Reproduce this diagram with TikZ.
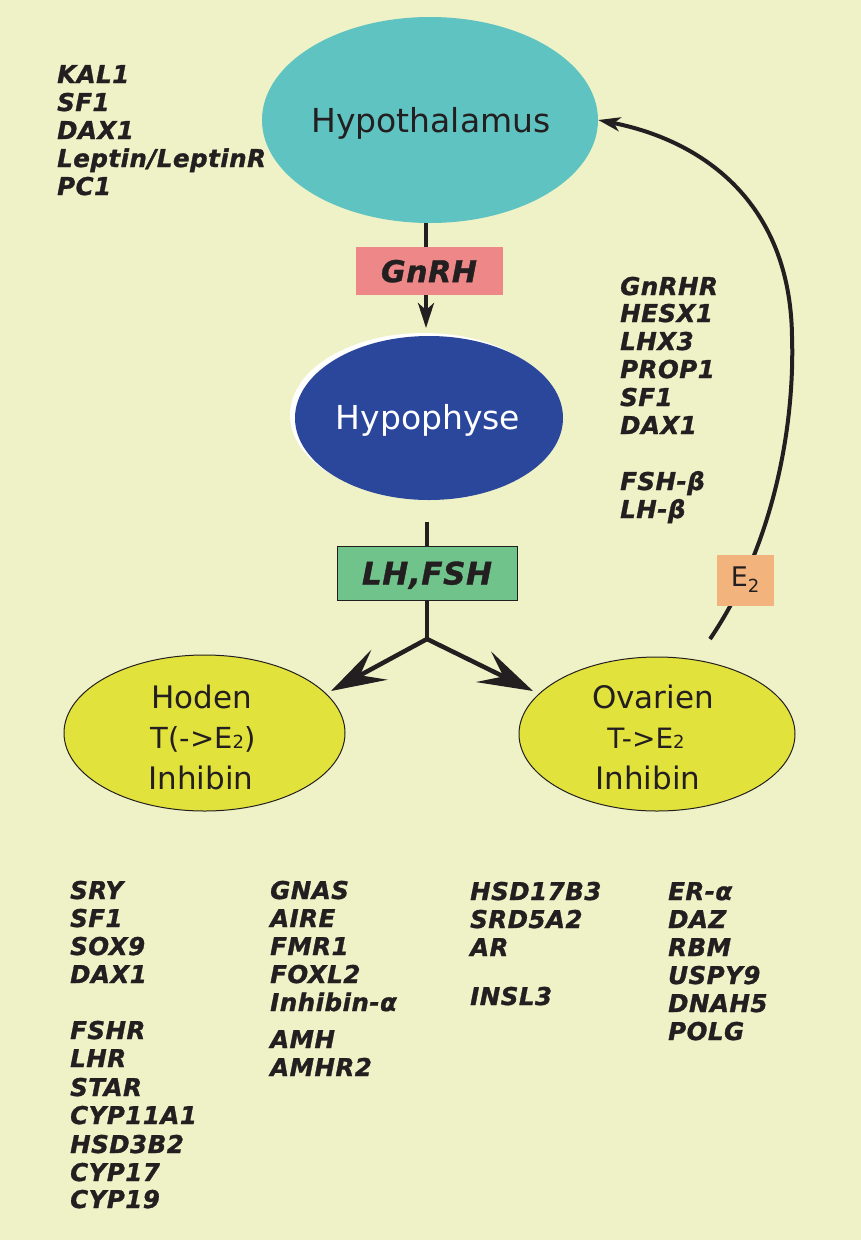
\documentclass[tikz,border=0pt]{standalone}
\usepackage{fontspec}
\setmainfont{DejaVu Sans}
\newfontfamily\genefont[LetterSpace=2,BoldItalicFeatures={FakeBold=1.2}]{DejaVu Sans}
\usetikzlibrary{arrows.meta,shapes.geometric}
\definecolor{bg}{RGB}{239,242,199}
\definecolor{hypc}{RGB}{95,195,193}
\definecolor{hphc}{RGB}{43,71,156}
\definecolor{gnrhc}{RGB}{238,136,136}
\definecolor{lhc}{RGB}{112,195,138}
\definecolor{gonc}{RGB}{226,226,60}
\definecolor{e2c}{RGB}{243,179,124}
\definecolor{txt}{RGB}{35,31,32}
\begin{document}
\begin{tikzpicture}[x=1pt,y=-1pt,
  gene/.style={anchor=base west,inner sep=0pt,text=txt,font=\genefont\bfseries\itshape\fontsize{24.5}{28}\selectfont},
  lbl/.style={anchor=base,inner sep=0pt,text=txt},
  big/.style={font=\fontsize{33}{40}\selectfont},
  gon/.style={font=\fontsize{31}{38}\selectfont},
  oval/.style={ellipse,inner sep=0pt},
  conn/.style={draw=txt,line width=4.5pt},
  hormbox/.style={inner sep=0pt,text=txt,text depth=0pt,font=\genefont\bfseries\itshape\fontsize{30}{36}\selectfont},
  bigtip/.style={-{Stealth[length=55pt,width=34pt,inset=22pt]}},
  ]
\fill[bg] (0,0) rectangle (861,1240);

% Hypothalamus
\node[oval,fill=hypc,minimum width=336pt,minimum height=206pt] (hyp) at (430,120) {};
\node[lbl,big] (hyptxt) at (431,132) {Hypothalamus};

% Hypophyse
\node[oval,fill=white,minimum width=268pt,minimum height=164pt] (hphw) at (424,415) {};
\node[oval,fill=hphc,minimum width=268pt,minimum height=164pt] (hph) at (429,418) {};
\node[lbl,big,text=white] (hphtxt) at (428,429) {Hypophyse};

% GnRH arrow
\coordinate (gtip) at (426,328);
\draw[conn,line width=4pt,-{Stealth[length=25pt,width=16pt,inset=7pt]}] (hyp.south -| gtip) -- (gtip);
\node[hormbox,fill=gnrhc,minimum width=147pt,minimum height=48pt] (gnrh) at (429,271) {GnRH};

% LH,FSH
\coordinate (hsb) at (427,522);
\coordinate (jn) at (427,639);
\draw[conn] (hsb) -- (jn);
\node[hormbox,fill=lhc,draw=txt,line width=1pt,minimum width=180pt,minimum height=54pt,font=\genefont\bfseries\itshape\fontsize{31}{36}\selectfont] (lh) at (427,573) {LH,FSH};
\coordinate (htip) at (331,691);
\coordinate (otip) at (533,691);
\draw[conn,bigtip] (jn) -- (htip);
\draw[conn,bigtip] (jn) -- (otip);

% gonads
\node[oval,fill=gonc,draw=txt,line width=1pt,minimum width=281pt,minimum height=156pt] (hod) at (204.5,733) {};
\node[oval,fill=gonc,draw=txt,line width=1pt,minimum width=276pt,minimum height=154pt] (ova) at (657,734) {};
\node[lbl,gon] (hodt1) at (202,708) {Hoden};
\node[lbl,font=\fontsize{29}{35}\selectfont] (hodt2) at (203,748) {T(->E{\fontsize{18}{18}\selectfont 2})};
\node[lbl,gon] (hodt3) at (201,789) {Inhibin};
\node[lbl,gon] (ovat1) at (653,708) {Ovarien};
\node[lbl,font=\fontsize{28}{34}\selectfont] (ovat2) at (646,748) {T->E{\fontsize{18}{18}\selectfont 2}};
\node[lbl,gon] (ovat3) at (648,789) {Inhibin};

% E2 feedback
\coordinate (e2s) at (710,639);
\draw[conn,line width=4pt,-{Stealth[length=22pt,width=14pt,inset=6pt]}] (e2s) .. controls (772,548) and (795,430) .. (792,336) .. controls (790,200) and (700,140) .. (hyp.east);
\node[fill=e2c,minimum width=57pt,minimum height=51pt,inner sep=0pt,text=txt,font=\fontsize{27}{30}\selectfont] (e2) at (745,580) {E\raisebox{-6pt}{\fontsize{18}{18}\selectfont 2}};

% gene lists
\foreach \y/\t [count=\i] in {83/KAL1,111/SF1,139/DAX1,167/{Leptin/LeptinR},195/PC1}
  \node[gene] (tl\i) at (57,\y) {\t};
\foreach \y/\t [count=\i] in {295/GnRHR,322/HESX1,350/LHX3,378/PROP1,406/SF1,434/DAX1,490/FSH-β,518/LH-β}
  \node[gene] (rm\i) at (620,\y) {\t};
\foreach \y/\t [count=\i] in {899/SRY,927/SF1,955/SOX9,983/DAX1,1039/FSHR,1067/LHR,1096/STAR,1124/CYP11A1,1153/HSD3B2,1181/CYP17,1208/CYP19}
  \node[gene] (ca\i) at (70,\y) {\t};
\foreach \y/\t [count=\i] in {899/GNAS,927/AIRE,955/FMR1,983/FOXL2,1011/Inhibin-α,1048/AMH,1076/AMHR2}
  \node[gene] (cb\i) at (270,\y) {\t};
\foreach \y/\t [count=\i] in {900/HSD17B3,928/SRD5A2,956/AR,1005/INSL3}
  \node[gene] (cc\i) at (470,\y) {\t};
\foreach \y/\t [count=\i] in {900/ER-α,928/DAZ,956/RBM,984/USPY9,1012/DNAH5,1040/POLG}
  \node[gene] (cd\i) at (668,\y) {\t};
\end{tikzpicture}
\end{document}
